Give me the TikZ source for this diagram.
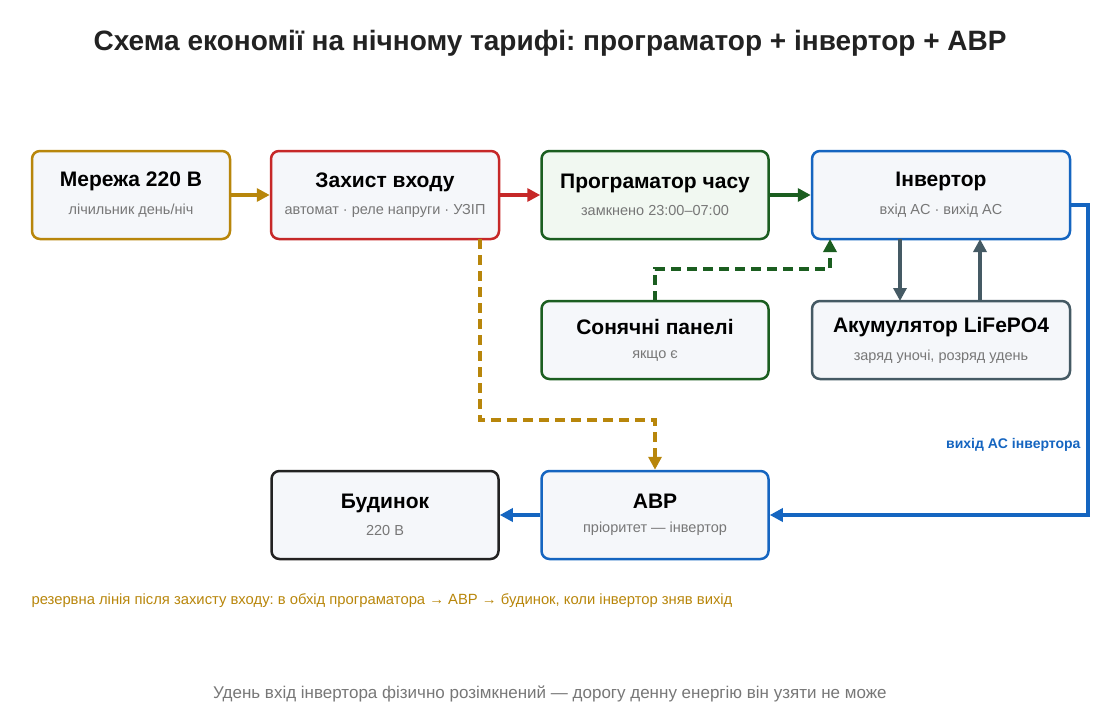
\documentclass[tikz,border=0pt]{standalone}
\usepackage{fontspec}
\setmainfont{Liberation Sans}
\usetikzlibrary{arrows.meta, positioning}
\definecolor{gold}{HTML}{B8860B}
\definecolor{redc}{HTML}{C62828}
\definecolor{greenc}{HTML}{1B5E20}
\definecolor{bluec}{HTML}{1565C0}
\definecolor{grayc}{HTML}{455A64}
\definecolor{darkc}{HTML}{222222}
\definecolor{boxfill}{HTML}{F5F7FA}
\definecolor{greenfill}{HTML}{F1F8F1}
\definecolor{subgray}{HTML}{777777}
\frenchspacing

\tikzset{
  box/.style={draw, line width=2.5pt, rounded corners=8pt, fill=boxfill,
              minimum height=88pt, align=center},
  link/.style={line width=4pt, -{Triangle[length=13pt,width=13pt]}},
  dashlink/.style={link, dash pattern=on 10pt off 6pt},
}
\newcommand{\boxtext}[2]{{\fontsize{21}{25}\selectfont\bfseries #1}\\[12pt]{\fontsize{14.5}{17}\selectfont\color{subgray}#2}}

\begin{document}
\begin{tikzpicture}[x=1pt, y=-1pt]
  \useasboundingbox (0,0) rectangle (1100,720);

  \node at (550,43) {\fontsize{28}{33}\selectfont\bfseries\color{darkc}Схема економії на нічному тарифі: програматор + інвертор + АВР};

  % top row
  \node[box, draw=gold, minimum width=198pt] (grid) at (131,195) {\boxtext{Мережа 220 В}{лічильник день/ніч}};
  \node[box, draw=redc, minimum width=228pt] (prot) at (385,195) {\boxtext{Захист входу}{автомат · реле напруги · УЗІП}};
  \node[box, draw=greenc, fill=greenfill, minimum width=227pt] (timer) at (655,195) {\boxtext{Програматор часу}{замкнено 23:00–07:00}};
  \node[box, draw=bluec, minimum width=258pt] (inv) at (941,195) {\boxtext{Інвертор}{вхід AC · вихід AC}};

  % middle row
  \node[box, draw=greenc, minimum width=227pt, minimum height=78pt] (solar) at (655,340) {\boxtext{Сонячні панелі}{якщо є}};
  \node[box, draw=grayc, minimum width=258pt, minimum height=78pt] (batt) at (941,340) {\boxtext{Акумулятор LiFePO4}{заряд уночі, розряд удень}};

  % bottom row
  \node[box, draw=darkc, minimum width=227pt] (house) at (385,515) {\boxtext{Будинок}{220 В}};
  \node[box, draw=bluec, minimum width=227pt] (ats) at (655,515) {\boxtext{АВР}{пріоритет — інвертор}};

  \coordinate (invout) at (1070,205);
  \coordinate (solarup) at (655,301);
  \coordinate (protdown) at (480,239);

  \draw[link, gold] (grid) -- (prot);
  \draw[link, redc] (prot) -- (timer);
  \draw[link, greenc] (timer) -- (inv);
  \draw[link, grayc] (900,239) -- (900,301);
  \draw[link, grayc] (980,301) -- (980,239);
  \draw[dashlink, greenc] (solarup) |- (830,269) -- (830,239);
  \draw[dashlink, gold] (protdown) |- (655,420) -- (ats.north);
  \draw[link, bluec] (invout) -| (1088,515) -- (ats.east);
  \draw[link, bluec] (ats) -- (house);

  \node[anchor=east, text=bluec, font=\fontsize{14}{16}\selectfont\bfseries] (lbl) at (1084,445) {вихід AC інвертора};

  \node[anchor=west, text=gold, font=\fontsize{14.8}{17}\selectfont] (note) at (28,601) {резервна лінія після захисту входу: в обхід програматора → АВР → будинок, коли інвертор зняв вихід};
  \node[text=subgray, font=\fontsize{17}{20}\selectfont] (foot) at (550,694) {Удень вхід інвертора фізично розімкнений — дорогу денну енергію він узяти не може};
\end{tikzpicture}
\end{document}
